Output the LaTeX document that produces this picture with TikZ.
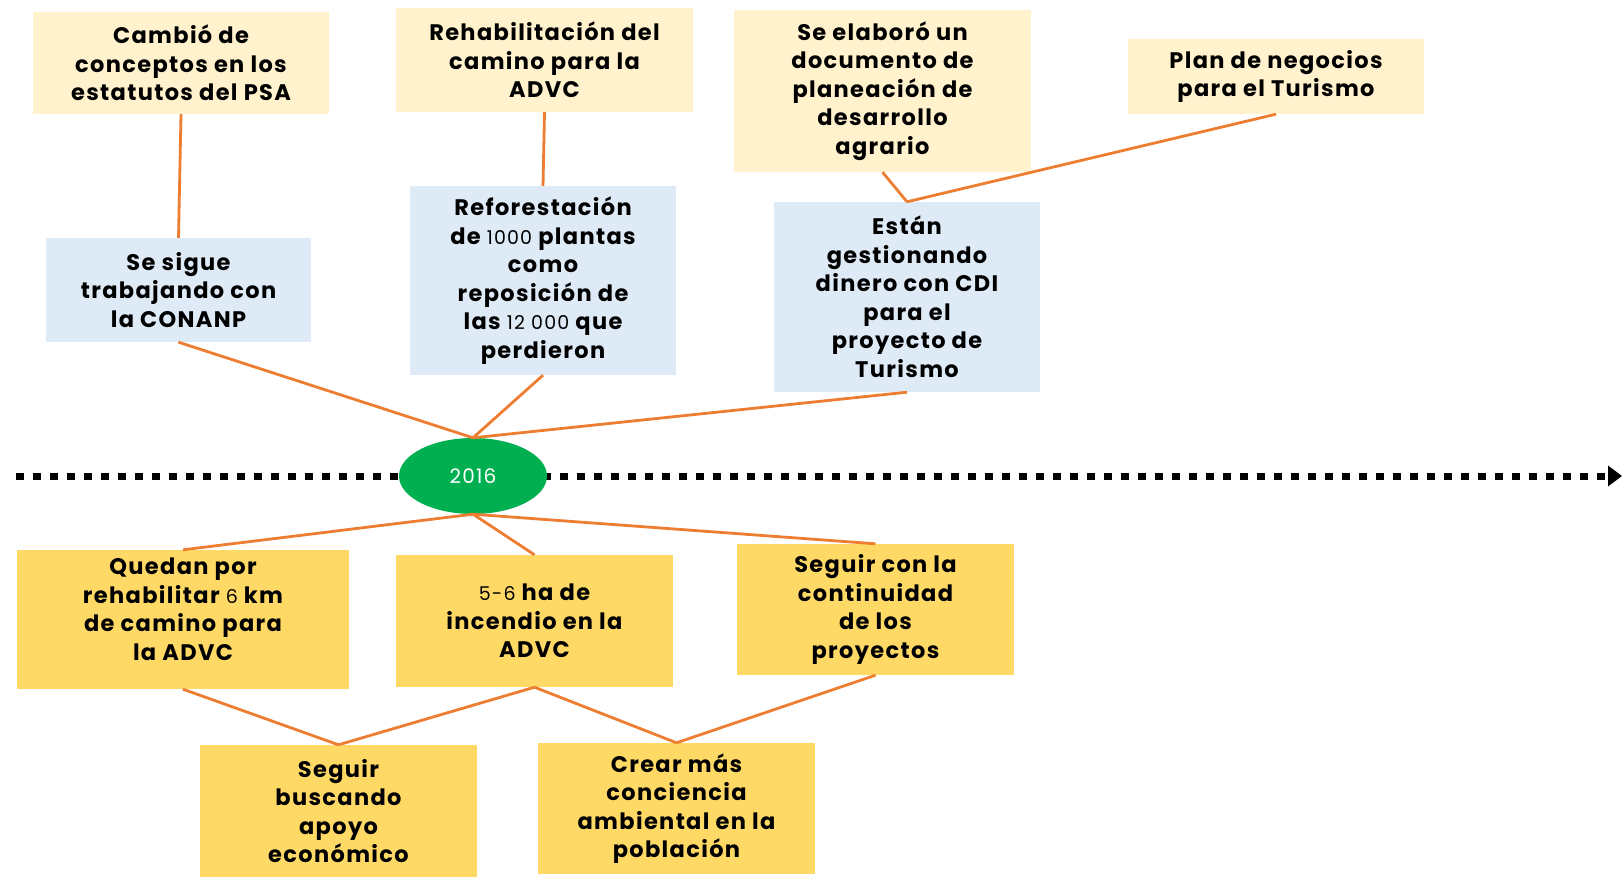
\documentclass[tikz,border=0pt]{standalone}
\usepackage{fontspec}
\setmainfont{Poppins}[LetterSpace=6]
\usetikzlibrary{arrows.meta,shapes.geometric}

\definecolor{tlorange}{RGB}{237,125,49}
\definecolor{paleyel}{RGB}{255,242,204}
\definecolor{paleblu}{RGB}{222,235,247}
\definecolor{ideayel}{RGB}{255,217,102}
\definecolor{yrgreen}{RGB}{0,176,80}

% numbers are set lighter and smaller in the boxes
\newcommand{\cifra}[1]{{\mdseries\fontsize{19}{28}\selectfont #1}}

\tikzset{
  txtbox/.style={align=center, inner sep=0pt, font=\bfseries\fontsize{22.5}{28.5}\selectfont},
  pastbox/.style={txtbox, fill=paleyel},
  nowbox/.style={txtbox, fill=paleblu},
  todobox/.style={txtbox, fill=ideayel},
  link/.style={draw=tlorange, line width=2.8pt},
}

\begin{document}
\begin{tikzpicture}[x=1pt,y=1pt,yscale=-1,xscale=1]
\useasboundingbox (0,0) rectangle (1622,877);

%Timeline [dotted arrow]
\coordinate (tl0) at (16,476);
\coordinate (tl1) at (1622,476);
\draw [line width=7pt, dash pattern={on 8pt off 9pt}, -{Triangle[length=14pt,width=20pt]}] (tl0) -- (tl1);

%Ellipse
\node (yr) [ellipse, fill=yrgreen, minimum width=148pt, minimum height=76pt, inner sep=0pt,
  text=white, font=\fontsize{20}{22}\selectfont] at (473,476) {2016};

%Shape: Rectangle (top row)
\node (cambio) [pastbox, minimum width=296pt, minimum height=102pt] at (181,63)
  {Cambió de\\conceptos en los\\estatutos del PSA};
\node (rehab) [pastbox, minimum width=297pt, minimum height=104pt] at (544.5,60)
  {Rehabilitación del\\camino para la\\ADVC};
\node (plandoc) [pastbox, minimum width=297pt, minimum height=162pt] at (882.5,91)
  {Se elaboró un\\documento de\\planeación de\\desarrollo\\agrario};
\node (negocio) [pastbox, minimum width=296pt, minimum height=75pt] at (1276,76.5)
  {Plan de negocios\\para el Turismo};

%Shape: Rectangle (blue row)
\node (conanp) [nowbox, minimum width=265pt, minimum height=104pt] at (178.5,290)
  {Se sigue\\trabajando con\\la CONANP};
\node (refor) [nowbox, minimum width=266pt, minimum height=189pt] at (543,280.5)
  {Reforestación\\de \cifra{1000} plantas\\como\\reposición de\\las \cifra{12 000} que\\perdieron};
\node (dinero) [nowbox, minimum width=266pt, minimum height=190pt] at (907,297)
  {Están\\gestionando\\dinero con CDI\\para el\\proyecto de\\Turismo};

%Shape: Rectangle (below the timeline)
\node (quedan) [todobox, minimum width=332pt, minimum height=139pt] at (183,619.5)
  {Quedan por\\rehabilitar \cifra{6} km\\de camino para\\la ADVC\\[-8pt]};
\node (incendio) [todobox, minimum width=277pt, minimum height=132pt] at (534.5,621)
  {\cifra{5-6} ha de\\incendio en la\\ADVC};
\node (contin) [todobox, minimum width=277pt, minimum height=131pt] at (875.5,609.5)
  {Seguir con la\\continuidad\\de los\\proyectos};
\node (apoyo) [todobox, minimum width=277pt, minimum height=132pt] at (338.5,811)
  {Seguir\\buscando\\apoyo\\económico};
\node (concien) [todobox, minimum width=277pt, minimum height=131pt] at (676.5,808.5)
  {Crear más\\conciencia\\ambiental en la\\población};

%Straight Lines
\draw [link] (cambio.south) -- (conanp.north);
\draw [link] (rehab.south) -- (refor.north);
\draw [link] (plandoc.south) -- (dinero.north);
\draw [link] (negocio.south) -- (dinero.north);
\draw [link] (conanp.south) -- (yr.north);
\draw [link] (refor.south) -- (yr.north);
\draw [link] (dinero.south) -- (yr.north);
\draw [link] (yr.south) -- (quedan.north);
\draw [link] (yr.south) -- (incendio.north);
\draw [link] (yr.south) -- (contin.north);
\draw [link] (quedan.south) -- (apoyo.north);
\draw [link] (incendio.south) -- (apoyo.north);
\draw [link] (incendio.south) -- (concien.north);
\draw [link] (contin.south) -- (concien.north);

\end{tikzpicture}
\end{document}
